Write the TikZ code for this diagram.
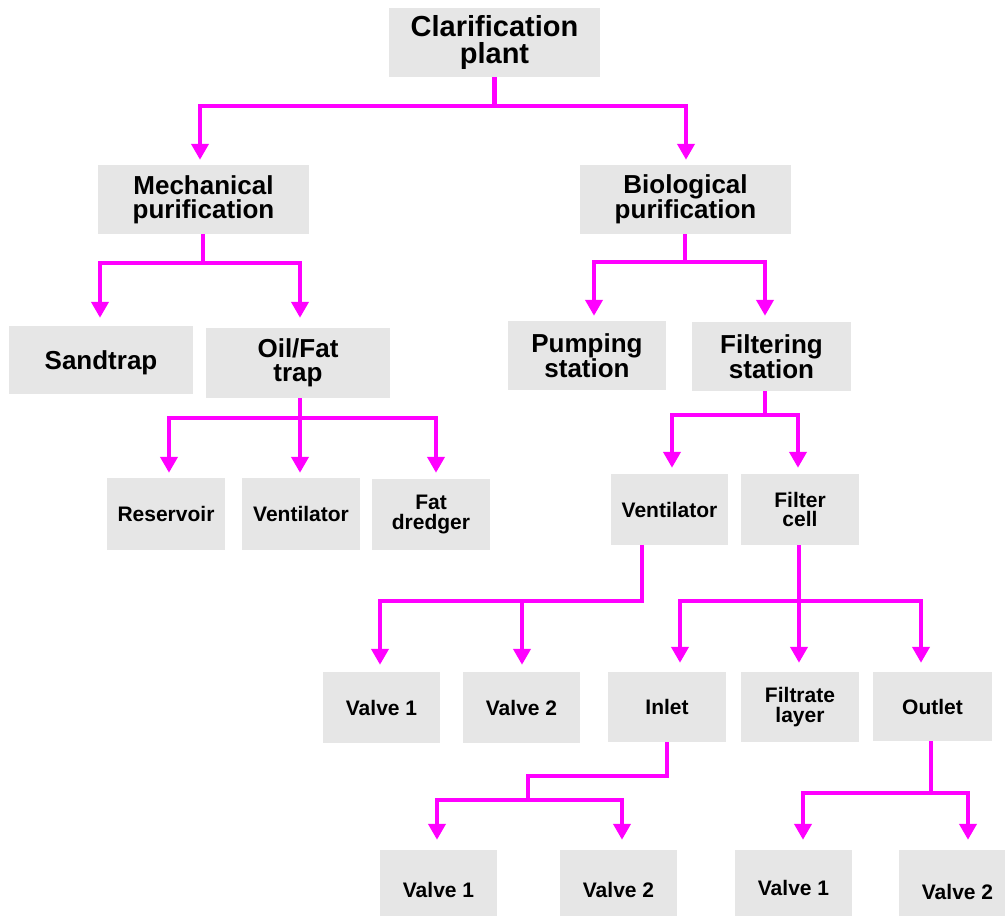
\documentclass[tikz,border=0pt]{standalone}
\usepackage{fontspec}
\setmainfont{Liberation Sans}
\usetikzlibrary{arrows.meta}
\definecolor{boxgray}{RGB}{230,230,230}
\definecolor{mag}{RGB}{255,0,255}
\begin{document}
\begin{tikzpicture}[x=1pt,y=-1pt,
 box/.style={fill=boxgray,inner sep=0pt,align=center,text=black,font=\bfseries\fontsize{21}{19.5}\selectfont},
 big/.style={font=\bfseries\fontsize{29}{26.5}\selectfont},
 mid/.style={font=\bfseries\fontsize{26}{24}\selectfont},
 link/.style={draw=mag,line width=4.2pt},
 bar/.style={link,line cap=rect},
 arr/.style={link,-{Triangle[width=17pt,length=16pt]}}]
\useasboundingbox (0,0) rectangle (1005,916);

% level 1
\node[box,big,minimum width=211pt,minimum height=69pt] (top) at (494.5,42.5) {Clarification\\plant};
% level 2
\node[box,mid,minimum width=211pt,minimum height=69pt] (mech) at (203.5,199.5) {Mechanical\\purification};
\node[box,mid,minimum width=211pt,minimum height=69pt] (bio) at (685.5,199.5) {Biological\\purification};
% level 3
\node[box,mid,minimum width=184pt,minimum height=68pt,text depth=0pt] (sand) at (101,360) {Sandtrap};
\node[box,mid,minimum width=184pt,minimum height=70pt] (oil) at (298,363) {Oil/Fat\\trap};
\node[box,mid,minimum width=158pt,minimum height=69pt] (pump) at (587,355.5) {Pumping\\station};
\node[box,mid,minimum width=159pt,minimum height=69pt] (filt) at (771.5,356.5) {Filtering\\station};
% level 4
\node[box,minimum width=118pt,minimum height=72pt] (res) at (166,514) {Reservoir};
\node[box,minimum width=118pt,minimum height=72pt] (venta) at (301,514) {Ventilator};
\node[box,minimum width=118pt,minimum height=71pt] (fat) at (431,514.5) {Fat\\dredger};
\node[box,minimum width=117pt,minimum height=71pt] (ventb) at (669.5,509.5) {Ventilator};
\node[box,minimum width=118pt,minimum height=71pt] (cell) at (800,509.5) {Filter\\cell};
% level 5
\node[box,minimum width=117pt,minimum height=71pt] (va1) at (381.5,707.5) {Valve 1};
\node[box,minimum width=117pt,minimum height=71pt] (va2) at (521.5,707.5) {Valve 2};
\node[box,minimum width=118pt,minimum height=70pt] (inlet) at (667,707) {Inlet};
\node[box,minimum width=118pt,minimum height=70pt] (filtr) at (800,707) {Filtrate\\layer};
\node[box,minimum width=119pt,minimum height=69pt] (outlet) at (932.5,706.5) {Outlet};
% level 6
\node[box,minimum width=117pt,minimum height=80pt] (vb1) at (438.5,890) {Valve 1};
\node[box,minimum width=117pt,minimum height=80pt] (vb2) at (618.5,890) {Valve 2};
\node[box,minimum width=117pt,minimum height=76pt] (vc1) at (793.5,888) {Valve 1};
\node[box,minimum width=117pt,minimum height=84pt] (vc2) at (957.5,892) {Valve 2};

% coordinates of the branching bars
\coordinate (tL) at (200,106);  \coordinate (tR) at (686,106);
\coordinate (mL) at (100,263);  \coordinate (mR) at (300,263); \coordinate (mC) at (203,263);
\coordinate (oL) at (169,418);  \coordinate (oM) at (300,418); \coordinate (oR) at (436,418);
\coordinate (bL) at (594,262);  \coordinate (bR) at (765,262); \coordinate (bC) at (685,262);
\coordinate (fL) at (672,415);  \coordinate (fM) at (765,415); \coordinate (fR) at (798,415);
\coordinate (vL) at (380,601);  \coordinate (vM) at (522,601); \coordinate (vC) at (642,601);
\coordinate (cL) at (680,601);  \coordinate (cM) at (799,601); \coordinate (cR) at (921,601);
\coordinate (iA) at (667,776);  \coordinate (iB) at (528,776); \coordinate (iC) at (528,800);
\coordinate (iL) at (437,800);  \coordinate (iR) at (622,800);
\coordinate (uA) at (931,793);  \coordinate (uL) at (803,793); \coordinate (uR) at (968,793);

% top
\draw[link] (top.south) -- (top.south |- tL);
\draw[bar] (tL) -- (tR);
\draw[arr,shorten >=5pt] (tL) -- (tL |- mech.north);
\draw[arr,shorten >=5pt] (tR) -- (tR |- bio.north);
% mechanical
\draw[link] (mech.south -| mC) -- (mC);
\draw[bar] (mL) -- (mR);
\draw[arr,shorten >=8pt] (mL) -- (mL |- sand.north);
\draw[arr,shorten >=10pt] (mR) -- (mR |- oil.north);
% oil/fat
\draw[link] (oil.south -| oM) -- (oM);
\draw[bar] (oL) -- (oR);
\draw[arr,shorten >=5pt] (oL) -- (oL |- res.north);
\draw[arr,shorten >=5pt] (oM) -- (oM |- venta.north);
\draw[arr,shorten >=6pt] (oR) -- (oR |- fat.north);
% biological
\draw[link] (bio.south -| bC) -- (bC);
\draw[bar] (bL) -- (bR);
\draw[arr,shorten >=5pt] (bL) -- (bL |- pump.north);
\draw[arr,shorten >=6pt] (bR) -- (bR |- filt.north);
% filtering
\draw[link] (filt.south -| fM) -- (fM);
\draw[bar] (fL) -- (fR);
\draw[arr,shorten >=6pt] (fL) -- (fL |- ventb.north);
\draw[arr,shorten >=6pt] (fR) -- (fR |- cell.north);
% ventilator (right)
\draw[link] (ventb.south -| vC) -- (vC);
\draw[bar] (vL) -- (vC);
\draw[arr,shorten >=7pt] (vL) -- (vL |- va1.north);
\draw[arr,shorten >=7pt] (vM) -- (vM |- va2.north);
% filter cell
\draw[link] (cell.south -| cM) -- (cM);
\draw[bar] (cL) -- (cR);
\draw[arr,shorten >=9pt] (cL) -- (cL |- inlet.north);
\draw[arr,shorten >=9pt] (cM) -- (cM |- filtr.north);
\draw[arr,shorten >=9pt] (cR) -- (cR |- outlet.north);
% inlet
\draw[link,line join=miter] (inlet.south -| iA) -- (iA) -- (iB) -- (iC);
\draw[bar] (iL) -- (iR);
\draw[arr,shorten >=10pt] (iL) -- (iL |- vb1.north);
\draw[arr,shorten >=10pt] (iR) -- (iR |- vb2.north);
% outlet
\draw[link] (outlet.south -| uA) -- (uA);
\draw[bar] (uL) -- (uR);
\draw[arr,shorten >=10pt] (uL) -- (uL |- vc1.north);
\draw[arr,shorten >=10pt] (uR) -- (uR |- vc2.north);
\end{tikzpicture}
\end{document}
